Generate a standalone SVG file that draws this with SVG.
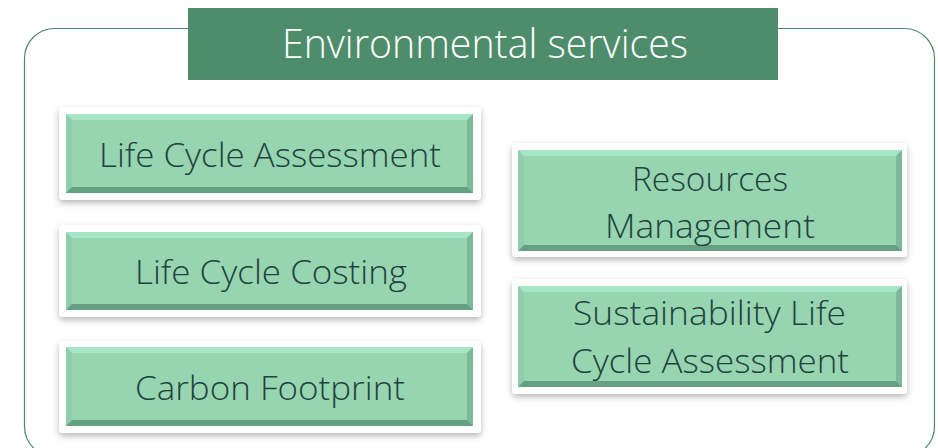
<svg xmlns="http://www.w3.org/2000/svg" width="938" height="448" viewBox="0 0 938 448">
<style>
.frame{fill:none;stroke:#4a8a68;stroke-width:1.2}
.card{fill:#ffffff;filter:url(#sh)}
.face{fill:#96d5b0}
.bt{fill:#a6e6c4}
.bl{fill:#8fcdab}
.br{fill:#7db897}
.bb{fill:#64a081}
.lbl{font-family:"Open Sans","Liberation Sans",sans-serif;font-weight:300;font-size:33px;fill:#23423f;text-anchor:middle}
.title{font-family:"Open Sans","Liberation Sans",sans-serif;font-weight:300;font-size:40px;fill:#ffffff;text-anchor:middle}
</style>
<defs>
<filter id="sh" x="-10%" y="-20%" width="120%" height="150%">
<feDropShadow dx="0" dy="3" stdDeviation="3" flood-color="#000" flood-opacity="0.28"/>
</filter>
</defs>
<rect width="938" height="448" fill="#ffffff"/>
<rect class="frame" x="24.5" y="28.5" width="910" height="428" rx="30"/>
<g id="title">
<rect x="188" y="8" width="590" height="72" fill="#4e8d6b"/>
<text class="title" x="485" y="58" textLength="406" lengthAdjust="spacingAndGlyphs">Environmental services</text>
</g>
<g id="lca">
<rect class="card" x="59" y="107" width="422" height="93" rx="4"/>
<rect class="face" x="66" y="114" width="407" height="79"/>
<polygon class="bt" points="66,114 473,114 467,120 72,120"/>
<polygon class="bl" points="66,114 72,120 72,187 66,193"/>
<polygon class="br" points="473,114 467,120 467,187 473,193"/>
<polygon class="bb" points="66,193 72,187 467,187 473,193"/>
<text class="lbl" x="270" y="167" textLength="342" lengthAdjust="spacingAndGlyphs">Life Cycle Assessment</text>
</g>
<g id="lcc">
<rect class="card" x="59" y="225" width="422" height="92" rx="4"/>
<rect class="face" x="66" y="232" width="407" height="78"/>
<polygon class="bt" points="66,232 473,232 467,238 72,238"/>
<polygon class="bl" points="66,232 72,238 72,304 66,310"/>
<polygon class="br" points="473,232 467,238 467,304 473,310"/>
<polygon class="bb" points="66,310 72,304 467,304 473,310"/>
<text class="lbl" x="271" y="284" textLength="272" lengthAdjust="spacingAndGlyphs">Life Cycle Costing</text>
</g>
<g id="cf">
<rect class="card" x="59" y="341" width="422" height="92" rx="4"/>
<rect class="face" x="66" y="347" width="407" height="79"/>
<polygon class="bt" points="66,347 473,347 467,353 72,353"/>
<polygon class="bl" points="66,347 72,353 72,420 66,426"/>
<polygon class="br" points="473,347 467,353 467,420 473,426"/>
<polygon class="bb" points="66,426 72,420 467,420 473,426"/>
<text class="lbl" x="270" y="400" textLength="270" lengthAdjust="spacingAndGlyphs">Carbon Footprint</text>
</g>
<g id="rm">
<rect class="card" x="512" y="143" width="395" height="114" rx="4"/>
<rect class="face" x="518" y="150" width="384" height="101"/>
<polygon class="bt" points="518,150 902,150 896,156 524,156"/>
<polygon class="bl" points="518,150 524,156 524,245 518,251"/>
<polygon class="br" points="902,150 896,156 896,245 902,251"/>
<polygon class="bb" points="518,251 524,245 896,245 902,251"/>
<text class="lbl" x="710" y="191" textLength="156" lengthAdjust="spacingAndGlyphs">Resources</text>
<text class="lbl" x="710" y="238" textLength="210" lengthAdjust="spacingAndGlyphs">Management</text>
</g>
<g id="slca">
<rect class="card" x="512" y="279" width="395" height="115" rx="4"/>
<rect class="face" x="518" y="286" width="384" height="101"/>
<polygon class="bt" points="518,286 902,286 896,292 524,292"/>
<polygon class="bl" points="518,286 524,292 524,381 518,387"/>
<polygon class="br" points="902,286 896,292 896,381 902,387"/>
<polygon class="bb" points="518,387 524,381 896,381 902,387"/>
<text class="lbl" x="709.5" y="325" textLength="273" lengthAdjust="spacingAndGlyphs">Sustainability Life</text>
<text class="lbl" x="710" y="373" textLength="278" lengthAdjust="spacingAndGlyphs">Cycle Assessment</text>
</g>
<g id="connectors"></g>
</svg>
